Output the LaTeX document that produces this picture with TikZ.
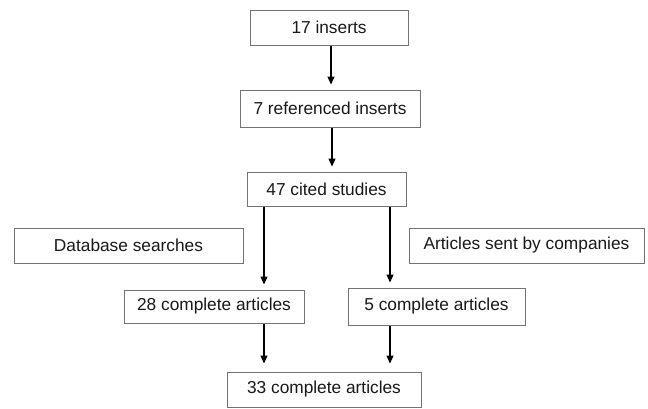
\documentclass[tikz,border=0pt]{standalone}
\usepackage{fontspec}
\setmainfont{Liberation Sans}
\usetikzlibrary{arrows.meta}
\definecolor{boxline}{rgb}{0.45,0.45,0.45}
\definecolor{txt}{rgb}{0.1,0.1,0.1}
\begin{document}
\begin{tikzpicture}[x=1pt,y=-1pt,
  flowbox/.style={draw=boxline,line width=1pt,rectangle,inner sep=0pt,
    text=txt,font=\fontsize{17.3}{20}\selectfont},
  arr/.style={draw=black,line width=1.2pt,-{Triangle[width=7pt,length=8pt]},shorten >=5pt}]
\useasboundingbox[fill=white] (0,0) rectangle (648,408);
\node[flowbox,minimum width=158pt,minimum height=35pt] (b1) at (329,27.5) {17 inserts};
\node[flowbox,minimum width=180pt,minimum height=37pt] (b2) at (330,108.5) {7 referenced inserts};
\node[flowbox,minimum width=159pt,minimum height=34pt] (b3) at (326.5,189) {47 cited studies};
\node[flowbox,minimum width=229pt,minimum height=35pt] (bdb) at (128.5,245.5) {Database searches};
\node[flowbox,minimum width=235pt,minimum height=35pt] (bas) at (526.5,245.5) {Articles sent by companies};
\node[flowbox,minimum width=180pt,minimum height=33pt] (b28) at (214,306.5) {28 complete articles};
\node[flowbox,minimum width=177pt,minimum height=37pt] (b5) at (436.5,306.5) {5 complete articles};
\node[flowbox,minimum width=194pt,minimum height=35pt] (b33) at (324,389.5) {33 complete articles};
\coordinate (xa) at (331,0);
\coordinate (xb) at (332,0);
\coordinate (xl) at (264,0);
\coordinate (xr) at (390,0);
\draw[arr] (b1.south -| xa) -- (b2.north -| xa);
\draw[arr] (b2.south -| xb) -- (b3.north -| xb);
\draw[arr] (b3.south -| xl) -- (b28.north -| xl);
\draw[arr] (b3.south -| xr) -- (b5.north -| xr);
\draw[arr,shorten >=8pt] (b28.south -| xl) -- (b33.north -| xl);
\draw[arr,shorten >=8pt] (b5.south -| xr) -- (b33.north -| xr);
\end{tikzpicture}
\end{document}
